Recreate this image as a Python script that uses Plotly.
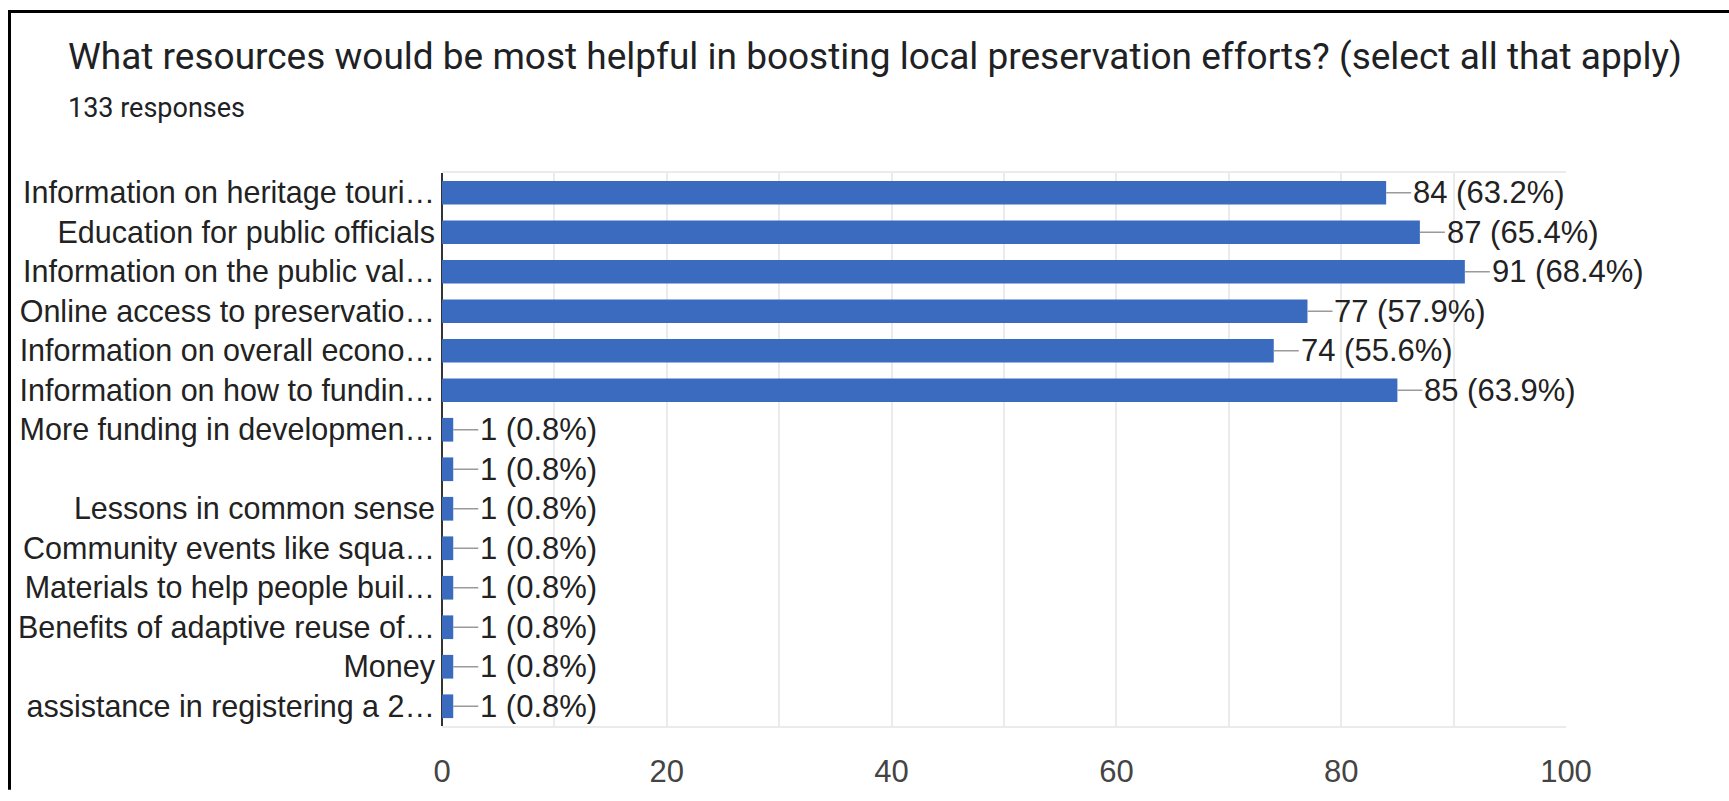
import plotly.graph_objects as go

# ---- data ----
categories = [
    "Information on heritage touri…",
    "Education for public officials",
    "Information on the public val…",
    "Online access to preservatio…",
    "Information on overall econo…",
    "Information on how to fundin…",
    "More funding in developmen…",
    " ",
    "Lessons in common sense",
    "Community events like squa…",
    "Materials to help people buil…",
    "Benefits of adaptive reuse of…",
    "Money",
    "assistance in registering a 2…",
]
counts = [84, 87, 91, 77, 74, 85, 1, 1, 1, 1, 1, 1, 1, 1]
percents = ["63.2%", "65.4%", "68.4%", "57.9%", "55.6%", "63.9%",
            "0.8%", "0.8%", "0.8%", "0.8%", "0.8%", "0.8%", "0.8%", "0.8%"]
x_ticks = [0, 20, 40, 60, 80, 100]
title_text = "What resources would be most helpful in boosting local preservation efforts? (select all that apply)"
subtitle_text = "133 responses"

# ---- geometry (pixels) ----
W, H = 1729, 801
L, R, T, B = 442, 1566, 173, 736


def xp(px):
    return (px - L) / (R - L)


def yp(py):
    return (B - py) / (B - T)


label_font = dict(family="Liberation Sans, Arial, sans-serif", size=30.5, color="#222222")
value_font = dict(family="Liberation Sans, Arial, sans-serif", size=31, color="#222222")

fig = go.Figure(
    go.Bar(
        x=counts,
        y=categories,
        orientation="h",
        marker=dict(color="#3b6bbf", line=dict(width=0)),
        hoverinfo="skip",
    )
)

annotations = []
for c, cat, p in zip(counts, categories, percents):
    annotations.append(dict(
        x=c, y=cat, xref="x", yref="y",
        text=f"{c} ({p})",
        showarrow=True, arrowhead=0, arrowwidth=1.6, arrowcolor="#9a9a9a",
        ax=25, ay=0, axref="pixel", ayref="pixel",
        xanchor="left", yanchor="middle", standoff=0,
        font=value_font,
    ))

annotations.append(dict(
    x=xp(66), y=yp(54), xref="paper", yref="paper",
    text=title_text, showarrow=False, xanchor="left", yanchor="middle",
    font=dict(family="Roboto, sans-serif", size=37, color="#202124"),
))
annotations.append(dict(
    x=xp(66), y=yp(107), xref="paper", yref="paper",
    text=subtitle_text, showarrow=False, xanchor="left", yanchor="middle",
    font=dict(family="Roboto, sans-serif", size=27, color="#202124"),
))

# frame: thick black edge along the top and the left of the picture
shapes = [
    dict(type="rect", xref="paper", yref="paper",
         x0=xp(8), x1=xp(W), y0=yp(10), y1=yp(7),
         fillcolor="black", line=dict(width=0)),
    dict(type="rect", xref="paper", yref="paper",
         x0=xp(8), x1=xp(11), y0=yp(H), y1=yp(7),
         fillcolor="black", line=dict(width=0)),
]

fig.update_layout(
    width=W, height=H, autosize=False,
    margin=dict(l=L, r=W - R, t=T, b=H - B, pad=0),
    paper_bgcolor="white", plot_bgcolor="white",
    showlegend=False,
    bargap=0.4,
    annotations=annotations,
    shapes=shapes,
    xaxis=dict(
        range=[0, 100], tickvals=x_ticks, ticktext=[str(v) for v in x_ticks],
        showgrid=True, gridcolor="#ebebeb", gridwidth=1.5,
        minor=dict(dtick=10, showgrid=True, gridcolor="#ebebeb", gridwidth=1.5),
        zeroline=True, zerolinecolor="#333333", zerolinewidth=2,
        showline=True, mirror=True, linecolor="#ebebeb", linewidth=1.5,
        ticks="", ticklabelstandoff=17,
        tickfont=dict(family="Liberation Sans, Arial, sans-serif", size=31, color="#444444"),
        fixedrange=True,
    ),
    yaxis=dict(
        categoryorder="array", categoryarray=categories,
        autorange="reversed",
        showgrid=False, zeroline=False, showline=False,
        ticks="", ticklabelstandoff=6,
        tickfont=label_font,
        fixedrange=True,
    ),
)

fig.write_html(
    "out.html",
    config={"displayModeBar": False},
    post_script="document.documentElement.style.overflow='hidden';"
                "document.body.style.margin='0';document.body.style.overflow='hidden';",
)
